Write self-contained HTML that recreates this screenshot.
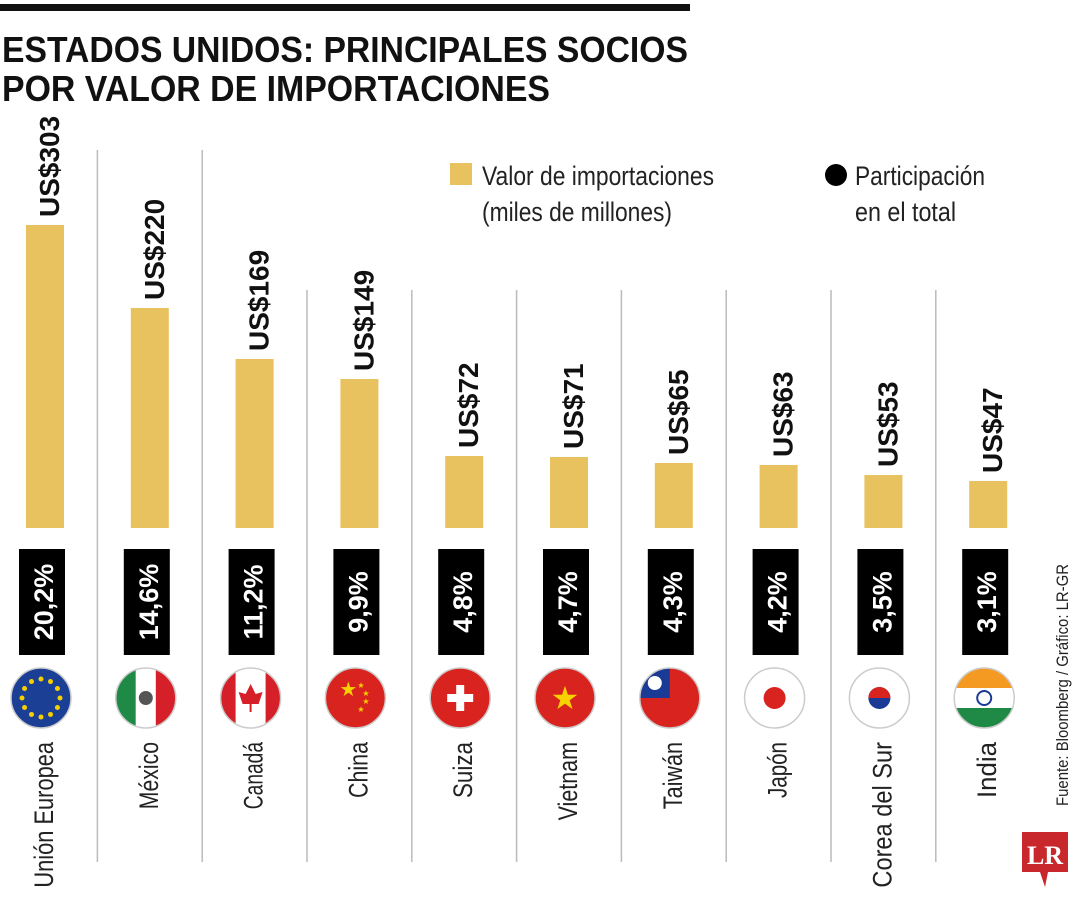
<!DOCTYPE html>
<html><head><meta charset="utf-8"><style>
body{margin:0;background:#fff;}
svg{display:block;font-family:"Liberation Sans",sans-serif;}
</style></head><body>
<svg id="chart" width="1080" height="900" viewBox="0 0 1080 900">
<rect x="0" y="4" width="690" height="7" fill="#111"/>
<text x="2" y="62" font-size="36" font-weight="bold" fill="#111" textLength="686" lengthAdjust="spacingAndGlyphs">ESTADOS UNIDOS: PRINCIPALES SOCIOS</text>
<text x="2" y="101" font-size="36" font-weight="bold" fill="#111" textLength="548" lengthAdjust="spacingAndGlyphs">POR VALOR DE IMPORTACIONES</text>
<g>
<rect x="450" y="163" width="22" height="22" fill="#E8C25E"/>
<text x="482" y="185" font-size="27" fill="#222" textLength="232" lengthAdjust="spacingAndGlyphs">Valor de importaciones</text>
<text x="482" y="221" font-size="27" fill="#222" textLength="190" lengthAdjust="spacingAndGlyphs">(miles de millones)</text>
<circle cx="836" cy="175" r="11" fill="#000"/>
<text x="855" y="185" font-size="27" fill="#222" textLength="130" lengthAdjust="spacingAndGlyphs">Participación</text>
<text x="855" y="221" font-size="27" fill="#222" textLength="101" lengthAdjust="spacingAndGlyphs">en el total</text>
</g>
<g id="seps"></g>
<g id="marks"></g>
<text transform="translate(1068,806) rotate(-90)" font-size="17" fill="#222" textLength="242" lengthAdjust="spacingAndGlyphs">Fuente: Bloomberg / Gráfico: LR-GR</text>
<g>
<path d="M1022,832 H1068 V872 H1048 L1045,887 L1040,872 H1022 Z" fill="#C8282B"/>
<text x="1045" y="864" font-family="Liberation Serif,serif" font-weight="bold" font-size="26" fill="#fff" text-anchor="middle">LR</text>
</g>
</svg>
<script>
const categories=["Unión Europea","México","Canadá","China","Suiza","Vietnam","Taiwán","Japón","Corea del Sur","India"];
const values=[303,220,169,149,72,71,65,63,53,47];
const shares=["20,2%","14,6%","11,2%","9,9%","4,8%","4,7%","4,3%","4,2%","3,5%","3,1%"];
const NS="http://www.w3.org/2000/svg";
const base=528, scaleY=1.0, x0=45, step=104.8, bw=38;
const xc=i=>x0+i*step;
const y=v=>base-v*scaleY;
function mk(tag,attrs,parent,txt){const e=document.createElementNS(NS,tag);for(const k in attrs)e.setAttribute(k,attrs[k]);if(txt!==undefined)e.textContent=txt;parent.appendChild(e);return e;}
const seps=document.getElementById('seps'), marks=document.getElementById('marks');
for(let i=1;i<categories.length;i++){
  const sx=xc(i)-step/2;
  const l=mk('line',{x1:sx,x2:sx,y1:i<=2?150:290,y2:862,stroke:'#bbb','stroke-width':1.5},seps);
  
  
}
function flag(i,cx,cy,g){
  const r=30;
  const id='clip'+i;
  const cp=mk('clipPath',{id:id},g);mk('circle',{cx:cx,cy:cy,r:r},cp);
  const f=mk('g',{'clip-path':'url(#'+id+')'},g);
  const R=(x,yy,w,h,c)=>mk('rect',{x:x,y:yy,width:w,height:h,fill:c},f);
  const c=categories[i];
  if(c==="Unión Europea"){R(cx-r,cy-r,2*r,2*r,'#1b3f95');for(let k=0;k<12;k++){const a=k*Math.PI/6;mk('circle',{cx:cx+19*Math.cos(a),cy:cy+19*Math.sin(a),r:2.5,fill:'#f5d000'},f);}}
  else if(c==="México"){R(cx-r,cy-r,20,60,'#1e8a45');R(cx-10,cy-r,20,60,'#fff');R(cx+10,cy-r,20,60,'#d5202a');mk('circle',{cx:cx,cy:cy,r:7,fill:'#555'},f);}
  else if(c==="Canadá"){R(cx-r,cy-r,60,60,'#fff');R(cx-r,cy-r,15,60,'#d5202a');R(cx+15,cy-r,15,60,'#d5202a');mk('path',{d:`M${cx},${cy-14} L${cx+5},${cy-4} L${cx+12},${cy-6} L${cx+8},${cy+6} L${cx+1},${cy+6} L${cx+1},${cy+14} L${cx-1},${cy+14} L${cx-1},${cy+6} L${cx-8},${cy+6} L${cx-12},${cy-6} L${cx-5},${cy-4} Z`,fill:'#d5202a'},f);}
  else if(c==="China"){R(cx-r,cy-r,60,60,'#d9231f');mk('text',{x:cx-16,y:cy-2,'font-size':20,fill:'#f8d200'},f,'★');[[2,-18],[7,-10],[7,-2],[2,6]].forEach(p=>mk('text',{x:cx+p[0],y:cy+p[1]+8,'font-size':8,fill:'#f8d200'},f,'★'));}
  else if(c==="Suiza"){R(cx-r,cy-r,60,60,'#d9231f');R(cx-4,cy-13,8,26,'#fff');R(cx-13,cy-4,26,8,'#fff');}
  else if(c==="Vietnam"){R(cx-r,cy-r,60,60,'#d9231f');mk('text',{x:cx,y:cy+11,'font-size':32,fill:'#f8d200','text-anchor':'middle'},f,'★');}
  else if(c==="Taiwán"){R(cx-r,cy-r,60,60,'#d9231f');R(cx-r,cy-r,30,30,'#1a3a96');mk('circle',{cx:cx-15,cy:cy-15,r:7,fill:'#fff'},f);}
  else if(c==="Japón"){R(cx-r,cy-r,60,60,'#fff');mk('circle',{cx:cx,cy:cy,r:11,fill:'#d9231f'},f);}
  else if(c==="Corea del Sur"){R(cx-r,cy-r,60,60,'#fff');mk('circle',{cx:cx,cy:cy,r:11,fill:'#1a3a96'},f);mk('path',{d:`M${cx-11},${cy} A11,11 0 0 1 ${cx+11},${cy} Z`,fill:'#d9231f'},f);}
  else {R(cx-r,cy-r,60,20,'#f49a22');R(cx-r,cy-10,60,20,'#fff');R(cx-r,cy+10,60,20,'#1e8a45');mk('circle',{cx:cx,cy:cy,r:7,fill:'none',stroke:'#1a3a96','stroke-width':2},f);}
  mk('circle',{cx:cx,cy:cy,r:r,fill:'none',stroke:'#ccc','stroke-width':1.5},g);
}
categories.forEach((c,i)=>{
  const cx=xc(i);
  const g=mk('g',{},marks);
  
  
  const b=mk('rect',{x:cx-bw/2,y:y(values[i]),width:bw,height:base-y(values[i]),fill:'#E8C25E'},g);
  
  
  const vl=mk('text',{transform:`translate(${cx+14},${y(values[i])-8}) rotate(-90)`,'font-size':28,'font-weight':'bold',fill:'#111'},g,'US$'+values[i]);
  
  
  const bx=mk('rect',{x:cx-26,y:549,width:46,height:106,fill:'#000'},g);
  
  
  const st=mk('text',{transform:`translate(${cx+8},602) rotate(-90)`,'font-size':27,'font-weight':'bold',fill:'#fff','text-anchor':'middle'},g,shares[i]);
  
  
  const fg=mk('g',{},g);
  
  
  flag(i,cx-4,698,fg);
  const nt=mk('text',{transform:`translate(${cx+8},742) rotate(-90)`,'font-size':27,fill:'#222','text-anchor':'end',textLength:c.length*11.2,lengthAdjust:'spacingAndGlyphs'},g,c);
  
  
});
</script>
</body></html>
